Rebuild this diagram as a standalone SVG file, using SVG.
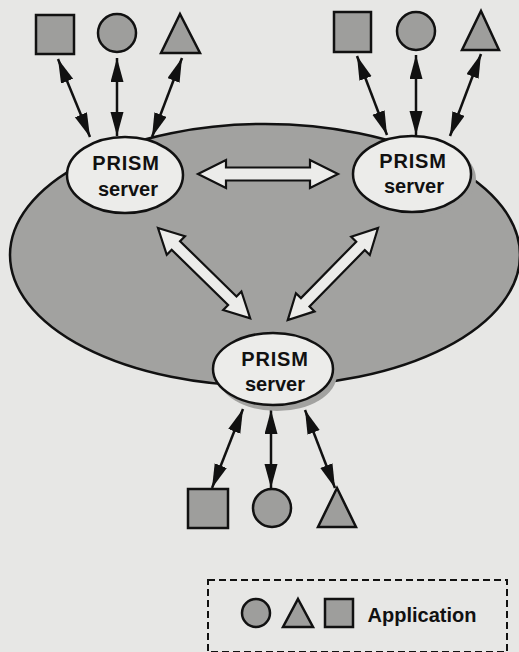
<svg xmlns="http://www.w3.org/2000/svg" width="519" height="652" viewBox="0 0 519 652">
<defs>
<style>
.bg{fill:#e7e7e5}
.domain{fill:#a2a2a0;stroke:#111;stroke-width:2.5}
.shadow{fill:#a2a2a0;stroke:none}
.server{fill:#ececea;stroke:#111;stroke-width:2.5}
.app{fill:#9e9e9c;stroke:#111;stroke-width:2.5}
.lbl{font-family:"Liberation Sans",Arial,Helvetica,sans-serif;font-weight:bold;font-size:20px;fill:#111;text-anchor:middle}
.wide{letter-spacing:0.8px}
.link{stroke:#111;stroke-width:2.5;fill:none;marker-start:url(#ah);marker-end:url(#ah)}
.big{fill:#ececea;stroke:#111;stroke-width:2.2;stroke-linejoin:miter}
.legend{fill:none;stroke:#111;stroke-width:2;stroke-dasharray:7 4}
</style>
<marker id="ah" markerUnits="userSpaceOnUse" markerWidth="26" markerHeight="14" refX="24" refY="6.5" orient="auto-start-reverse">
<path d="M0,0 L24,6.5 L0,13 z" fill="#111"/>
</marker>
</defs>
<rect class="bg" x="0" y="0" width="519" height="652"/>
<g id="domain">
<ellipse class="domain" cx="265" cy="255" rx="255" ry="131"/>
</g>
<g id="connectors">
<g id="link-left-right">
<path class="big" transform="translate(198,174)" d="M0,0 L28,-14 L28,-6.5 L112,-6.5 L112,-14 L140,0 L112,14 L112,6.5 L28,6.5 L28,14 Z"/>
</g>
<g id="link-left-bottom">
<path class="big" transform="translate(158,228) rotate(44.4)" d="M0,0 L25,-13 L25,-6 L104,-6 L104,-13 L129,0 L104,13 L104,6 L25,6 L25,13 Z"/>
</g>
<g id="link-right-bottom">
<path class="big" transform="translate(378,228) rotate(134.4)" d="M0,0 L25,-13 L25,-6 L104,-6 L104,-13 L129,0 L104,13 L104,6 L25,6 L25,13 Z"/>
</g>
<line class="link" x1="58" y1="59" x2="90" y2="137"/>
<line class="link" x1="117" y1="58" x2="117" y2="136"/>
<line class="link" x1="182" y1="58" x2="152" y2="137"/>
<line class="link" x1="357" y1="56" x2="387" y2="135"/>
<line class="link" x1="416" y1="55" x2="416" y2="135"/>
<line class="link" x1="481" y1="54" x2="450" y2="136"/>
<line class="link" x1="243" y1="409" x2="212" y2="488"/>
<line class="link" x1="271" y1="410" x2="271" y2="488"/>
<line class="link" x1="305" y1="410" x2="335" y2="488"/>
</g>
<g id="server-left">
<ellipse class="server" cx="125" cy="175" rx="58" ry="38"/>
<text class="lbl wide" x="126" y="170">PRISM</text>
<text class="lbl" x="128" y="196">server</text>
</g>
<g id="server-right">
<ellipse class="shadow" cx="417" cy="179" rx="59" ry="38"/>
<ellipse class="server" cx="412" cy="174" rx="59" ry="38"/>
<text class="lbl wide" x="413" y="168">PRISM</text>
<text class="lbl" x="414" y="193">server</text>
</g>
<g id="server-bottom">
<ellipse class="shadow" cx="277" cy="374" rx="60" ry="37"/>
<ellipse class="server" cx="273" cy="369" rx="60" ry="36"/>
<text class="lbl wide" x="275" y="366">PRISM</text>
<text class="lbl" x="275" y="391">server</text>
</g>
<g id="app-left-square"><rect class="app" x="36" y="15" width="38" height="39"/></g>
<g id="app-left-circle"><circle class="app" cx="117" cy="33" r="19"/></g>
<g id="app-left-triangle"><polygon class="app" points="180,14 200,53 161,53"/></g>
<g id="app-right-square"><rect class="app" x="334" y="12" width="37" height="40"/></g>
<g id="app-right-circle"><circle class="app" cx="416" cy="31" r="19"/></g>
<g id="app-right-triangle"><polygon class="app" points="481,11 499,50 462,50"/></g>
<g id="app-bottom-square"><rect class="app" x="188" y="489" width="40" height="39"/></g>
<g id="app-bottom-circle"><circle class="app" cx="272" cy="508" r="19"/></g>
<g id="app-bottom-triangle"><polygon class="app" points="337,488 356,527 318,527"/></g>
<g id="legend">
<rect class="legend" x="208" y="580" width="299" height="72"/>
<circle class="app" cx="256" cy="613" r="14"/>
<polygon class="app" points="298,599 313,627 283,627"/>
<rect class="app" x="325" y="599" width="28" height="28"/>
<text class="lbl" x="422" y="622">Application</text>
</g>
</svg>
